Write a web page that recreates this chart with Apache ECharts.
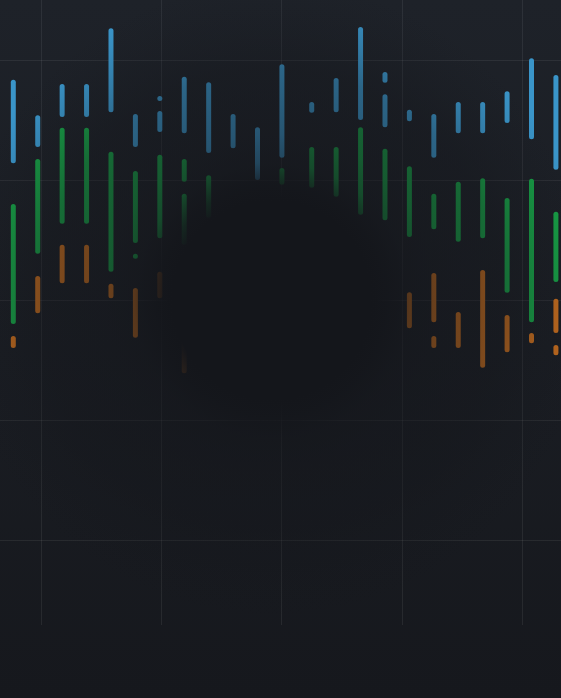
<!DOCTYPE html>
<html>
<head>
<meta charset="utf-8">
<script src="https://cdn.jsdelivr.net/npm/echarts@6/dist/echarts.min.js"></script>
<style>
html,body{margin:0;padding:0;background:#1a1d23;}
#chart{width:561px;height:698px;}
</style>
</head>
<body>
<div id="chart"></div>
<script>
// column positions (value-axis units)
const xPositions = [0,1,2,3,4,5,6,7,8,9,10,11,12.22,13.22,14.22,15.22,16.22,17.22,18.22,19.22,20.22,21.22,22.22];

// segments: [columnIndex, low, high]
const blueSegments = [
  [0,82.8,96.7],[1,85.5,90.8],[2,90.5,96.0],[3,90.5,96.0],[4,91.3,105.3],[5,85.5,91.0],
  [6,93.3,94.0],[6,88.0,91.5],[7,87.8,97.2],[8,84.5,96.3],[9,85.3,91.0],[10,80.0,88.8],
  [11,83.7,99.3],[12,91.2,93.0],[13,91.3,97.0],[14,90.0,105.5],[15,96.2,98.0],[15,88.8,94.3],
  [16,89.8,91.7],[17,83.7,91.0],[18,87.8,93.0],[19,87.8,93.0],[20,89.5,94.8],[21,86.8,100.3],
  [22,81.7,97.5]
];
const greenSegments = [
  [0,56.0,76.0],[1,67.7,83.5],[2,72.7,88.7],[3,72.7,88.7],[4,64.7,84.7],[5,69.5,81.5],
  [5,67.3,67.7],[6,70.3,84.2],[7,79.7,83.5],[7,69.2,77.7],[8,73.7,80.8],[11,79.2,82.0],
  [12,78.7,85.5],[13,77.2,85.5],[14,74.2,88.8],[15,73.3,85.2],[16,70.5,82.3],[17,71.8,77.7],
  [18,69.7,79.7],[19,70.3,80.3],[20,61.2,77.0],[21,56.3,80.2],[22,63.0,74.7]
];
const orangeSegments = [
  [0,52.0,54.0],[1,57.8,64.0],[2,62.8,69.2],[3,62.8,69.2],[4,60.3,62.7],[5,53.7,62.0],
  [6,60.3,64.7],[7,47.8,53.8],[16,55.3,61.3],[17,56.3,64.5],[17,52.0,54.0],[18,52.0,58.0],
  [19,48.7,65.0],[20,51.3,57.5],[21,52.8,54.5],[22,54.5,60.2],[22,50.8,52.5]
];

const colors = {blue:'#3a95c9', green:'#17a046', orange:'#c46c1e'};

function toData(segs){
  return segs.map(s => [xPositions[s[0]], s[1], s[2]]);
}

function renderItem(params, api){
  const x = api.value(0), lo = api.value(1), hi = api.value(2);
  const p1 = api.coord([x, hi]);
  const p2 = api.coord([x, lo]);
  const w = 5;
  const h = Math.max(p2[1]-p1[1], w);
  return {
    type:'rect',
    shape:{x:p1[0]-w/2, y:p1[1], width:w, height:h, r:w/2},
    style:{fill: api.visual('color')}
  };
}

const shade = 'rgba(20,22,27,';
const chart = echarts.init(document.getElementById('chart'), null, {renderer:'canvas'});
chart.setOption({
  animation:false,
  backgroundColor:{
    type:'linear', x:0, y:0, x2:0, y2:1,
    colorStops:[{offset:0,color:'#1e2229'},{offset:1,color:'#16181d'}]
  },
  grid:[
    {left:0, right:0, top:0, bottom:38},
    {left:41, right:39, top:0, bottom:73}
  ],
  xAxis:[
    {type:'value', gridIndex:0, min:-0.5446, max:22.428, show:true,
     axisLine:{show:false}, axisTick:{show:false}, axisLabel:{show:false}, splitLine:{show:false}},
    {type:'value', gridIndex:1, min:0, max:4, interval:1,
     axisLine:{show:false}, axisTick:{show:false}, axisLabel:{show:false},
     splitLine:{show:true, lineStyle:{color:'rgba(255,255,255,0.07)', width:1}}}
  ],
  yAxis:[
    {type:'value', gridIndex:0, min:0, max:110, interval:20,
     axisLine:{show:false}, axisTick:{show:false}, axisLabel:{show:false},
     splitLine:{show:true, showMinLine:false, showMaxLine:false, lineStyle:{color:'rgba(255,255,255,0.07)', width:1}}},
    {type:'value', gridIndex:1, show:false, splitLine:{show:false}}
  ],
  series:[
    {type:'custom', name:'blue', xAxisIndex:0, yAxisIndex:0, renderItem, itemStyle:{color:colors.blue}, data:toData(blueSegments)},
    {type:'custom', name:'green', xAxisIndex:0, yAxisIndex:0, renderItem, itemStyle:{color:colors.green}, data:toData(greenSegments)},
    {type:'custom', name:'orange', xAxisIndex:0, yAxisIndex:0, renderItem, itemStyle:{color:colors.orange}, data:toData(orangeSegments)}
  ],
  graphic:[{
    type:'rect', z:100, silent:true,
    shape:{x:0, y:0, width:561, height:698},
    style:{fill:{type:'radial', x:272, y:300, r:320, global:true,
      colorStops:[
        {offset:0, color:shade+'1)'},
        {offset:0.31, color:shade+'1)'},
        {offset:0.36, color:shade+'0.88)'},
        {offset:0.43, color:shade+'0.62)'},
        {offset:0.52, color:shade+'0.5)'},
        {offset:0.72, color:shade+'0.38)'},
        {offset:0.82, color:shade+'0.22)'},
        {offset:0.94, color:shade+'0.06)'},
        {offset:1, color:shade+'0)'}
      ]}}
  }]
});
</script>
</body>
</html>
